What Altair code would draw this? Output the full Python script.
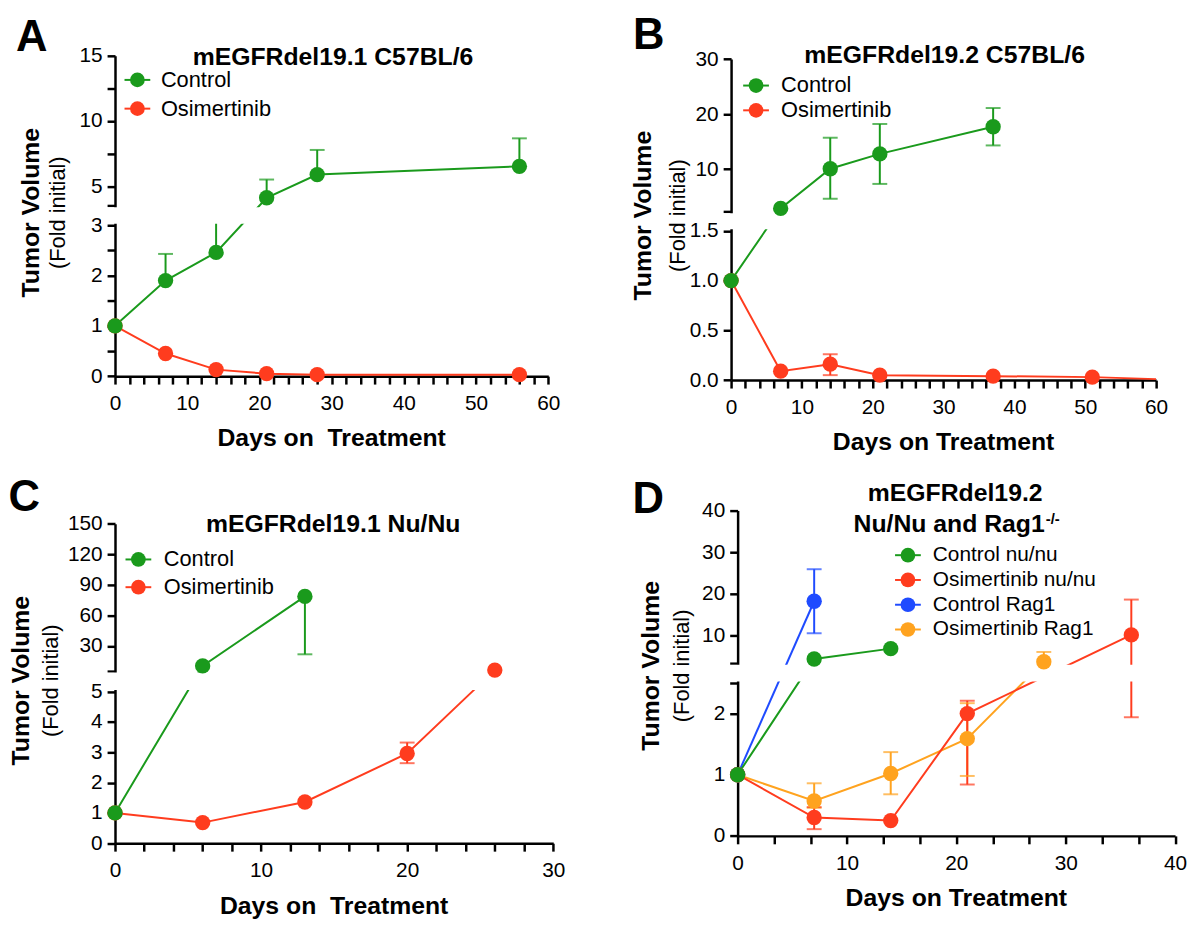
import altair as alt
import pandas as pd

FONT = "Liberation Sans"
GREEN, RED, BLUE, ORANGE = "#1a9a1c", "#ff3c1e", "#1f4bff", "#ffa31f"

# ---------------- data ----------------
# Panel A: mEGFRdel19.1 C57BL/6
A_days = [0, 7, 14, 21, 28, 56]
A_ctrl = [1.0, 1.90, 2.46, 4.11, 5.89, 6.52]
A_ctrl_hi = [None, 2.43, 3.3, 5.51, 7.78, 8.67]
A_osi = [1.0, 0.45, 0.13, 0.05, 0.03, 0.03]

# Panel B: mEGFRdel19.2 C57BL/6
B_ctrl_days = [0, 7, 14, 21, 37]
B_ctrl = [1.0, 2.85, 10.06, 12.76, 17.7]
B_ctrl_lo = [None, None, 4.6, 7.3, 14.3]
B_ctrl_hi = [None, None, 15.7, 18.2, 21.1]
B_osi_days = [0, 7, 14, 21, 37, 51]
B_osi = [1.0, 0.09, 0.16, 0.05, 0.04, 0.03]
B_osi_lo = [None, None, 0.05, None, None, None]
B_osi_hi = [None, None, 0.26, None, None, None]
B_osi_tail_days = [60]
B_osi_tail = [0.01]

# Panel C: mEGFRdel19.1 Nu/Nu
C_ctrl_days = [0, 6, 13]
C_ctrl = [1.0, 10.5, 78.7]
C_ctrl_lo = [None, None, 21.9]
C_osi_days = [0, 6, 13, 20, 26]
C_osi = [1.0, 0.68, 1.36, 2.96, 6.4]
C_osi_lo = [None, None, None, 2.64, None]
C_osi_hi = [None, None, None, 3.32, None]

# Panel D: mEGFRdel19.2 Nu/Nu and Rag1-/-
D_gn_days = [0, 7, 14]
D_gn = [1.0, 4.3, 6.8]
D_rd_days = [0, 7, 14, 21, 36]
D_rd = [1.0, 0.30, 0.25, 2.0, 10.1]
D_rd_lo = [None, 0.11, None, 0.84, 1.94]
D_rd_hi = [None, 0.47, None, 2.21, 18.6]
D_bl_days = [0, 7]
D_bl = [1.0, 18.2]
D_bl_lo = [None, 10.5]
D_bl_hi = [None, 25.9]
D_or_days = [0, 7, 14, 21, 28]
D_or = [1.0, 0.57, 1.02, 1.59, 3.65]
D_or_lo = [None, 0.46, 0.68, 0.98, None]
D_or_hi = [None, 0.86, 1.37, 2.17, 6.0]

ONE = pd.DataFrame({"k": [0]})


def ser(name, color, days, vals, lo=None, hi=None, tail_days=(), tail_vals=()):
    n = len(days)
    return dict(name=name, color=color, days=days, vals=vals,
                lo=lo or [None] * n, hi=hi or [None] * n,
                tail_days=list(tail_days), tail_vals=list(tail_vals))


def frames(series):
    pts, lines, errs, caps = [], [], [], []
    for s in series:
        for d, v, lo, hi in zip(s["days"], s["vals"], s["lo"], s["hi"]):
            pts.append(dict(day=d, val=v, color=s["color"], name=s["name"]))
            lines.append(dict(day=d, val=v, color=s["color"], name=s["name"]))
            if lo is not None or hi is not None:
                errs.append(dict(day=d, lo=lo if lo is not None else v,
                                 hi=hi if hi is not None else v, color=s["color"]))
            for c in (lo, hi):
                if c is not None:
                    caps.append(dict(day=d, cap=c, color=s["color"]))
        for d, v in zip(s["tail_days"], s["tail_vals"]):
            lines.append(dict(day=d, val=v, color=s["color"], name=s["name"]))
    return (pd.DataFrame(pts), pd.DataFrame(lines), pd.DataFrame(errs), pd.DataFrame(caps))


def txt(x, y, s, size, weight="normal", align="center", baseline="alphabetic", angle=0):
    return alt.Chart(ONE).mark_text(
        text=s, fontSize=size, fontWeight=weight, font=FONT, align=align,
        baseline=baseline, angle=angle, color="black"
    ).encode(x=alt.value(x), y=alt.value(y))


def panel(cfg):
    W, H = cfg["W"], cfg["H"]
    yscale = alt.Scale(domain=cfg["ydom"], range=cfg["yrng"], nice=False, zero=False)
    xscale = alt.Scale(domain=[0, cfg["xmax"]], nice=False, zero=False)
    common = dict(grid=False, title=None, domainColor="black", domainWidth=2.5,
                  tickColor="black", tickWidth=2.5, tickSize=8, labelFont=FONT,
                  labelFontSize=21, labelColor="black", labelOverlap=False,
                  labelFlush=False, labelBound=False)
    yaxis = alt.Axis(values=cfg["yticks"], labelExpr=cfg["ylab"], labelPadding=5, **common)
    xaxis = alt.Axis(values=cfg["xticks"],
                     labelExpr="datum.value % 10 === 0 ? format(datum.value, 'd') : ''",
                     labelPadding=9, **common)

    def X(f):
        return alt.X(f + ":Q", scale=xscale, axis=xaxis)

    def Y(f):
        return alt.Y(f + ":Q", scale=yscale, axis=yaxis)

    col = alt.Color("color:N", scale=None)
    pts, lines, errs, caps = frames(cfg["series"])

    layers = [
        alt.Chart(lines).mark_line(strokeWidth=2).encode(
            x=X("day"), y=Y("val"), color=col, detail="name:N", order="day:Q"),
        alt.Chart(errs).mark_rule(strokeWidth=2).encode(
            x=X("day"), y=Y("lo"), y2="hi:Q", color=col),
        alt.Chart(caps).mark_tick(orient="horizontal", size=15, thickness=2).encode(
            x=X("day"), y=Y("cap"), color=col),
        # white band hiding the axis break
        alt.Chart(ONE).mark_rect(color="white", yOffset=1.6, y2Offset=-1.6).encode(
            x=alt.value(-14), x2=alt.value(W + 2),
            y=alt.YDatum(cfg["ydom"][2], scale=yscale, axis=yaxis),
            y2=alt.Y2Datum(cfg["ydom"][1])),
        alt.Chart(pts).mark_circle(size=240, opacity=1).encode(
            x=X("day"), y=Y("val"), color=col),
    ]
    # legend
    sx, tx = cfg["leg_sym_x"], cfg["leg_txt_x"]
    for (name, color), ry in zip(cfg["legend"], cfg["leg_rows"]):
        layers.append(alt.Chart(ONE).mark_rule(color=color, strokeWidth=2).encode(
            x=alt.value(sx - 13), x2=alt.value(sx + 13), y=alt.value(ry)))
        layers.append(alt.Chart(ONE).mark_circle(color=color, size=220, opacity=1).encode(
            x=alt.value(sx), y=alt.value(ry)))
        layers.append(txt(tx, ry, name, cfg.get("leg_size", 22), align="left", baseline="middle"))
    # letter, titles, axis titles
    lx, ly = cfg["letter_xy"]
    layers.append(txt(lx, ly, cfg["letter"], 44, "bold", align="left"))
    for (s, x, y, align, size) in cfg["titles"]:
        layers.append(txt(x, y, s, size, "bold", align=align))
    layers.append(txt(W / 2, H + 71, cfg["xtitle"], 25, "bold"))
    tvx, tvy = cfg["tv_xy"]
    fix, fiy = cfg["fi_xy"]
    layers.append(txt(tvx, tvy, "Tumor Volume", 25, "bold", baseline="middle", angle=270))
    layers.append(txt(fix, fiy, "(Fold initial)", 22, baseline="middle", angle=270))
    return alt.layer(*layers).properties(width=W, height=H)


def ticks(step, top):
    out, k = [], 0
    while k * step <= top + 1e-9:
        v = k * step
        out.append(int(round(v)) if abs(v - round(v)) < 1e-9 else round(v, 6))
        k += 1
    return out


panel_A = panel(dict(
    W=437.3, H=323.3, ydom=[0, 3, 3.5, 15], yrng=[323.3, 171.0, 151.3, 0],
    xmax=60, xticks=ticks(2, 60),
    yticks=[0, 0.5, 1, 1.5, 2, 2.5, 3, 3.5, 5, 7.5, 10, 12.5, 15],
    ylab="indexof([0,1,2,3,5,10,15], datum.value) >= 0 ? format(datum.value, 'd') : ''",
    series=[ser("Osimertinib", RED, A_days, A_osi),
            ser("Control", GREEN, A_days, A_ctrl, hi=A_ctrl_hi)],
    legend=[("Control", GREEN), ("Osimertinib", RED)],
    leg_sym_x=22.6, leg_txt_x=46.3, leg_rows=[24.3, 53.3],
    letter="A", letter_xy=(-100, -4.7),
    titles=[("mEGFRdel19.1 C57BL/6", 220, 9, "center", 25)],
    xtitle="Days on\u00a0 Treatment", tv_xy=(-85, 158.3), fi_xy=(-57, 158.3)))

panel_B = panel(dict(
    W=428.9, H=327.3, ydom=[0, 1.5, 2.25, 30], yrng=[327.3, 176.6, 157.3, 3.3],
    xmax=60, xticks=ticks(2, 60),
    yticks=[0, 0.5, 1, 1.5, 2.25, 10, 20, 30],
    ylab="datum.value <= 1.5 ? format(datum.value, '.1f') : (datum.value >= 10 ? format(datum.value, 'd') : '')",
    series=[ser("Osimertinib", RED, B_osi_days, B_osi, B_osi_lo, B_osi_hi,
                B_osi_tail_days, B_osi_tail),
            ser("Control", GREEN, B_ctrl_days, B_ctrl, B_ctrl_lo, B_ctrl_hi)],
    legend=[("Control", GREEN), ("Osimertinib", RED)],
    leg_sym_x=25.2, leg_txt_x=50.5, leg_rows=[30, 55],
    letter="B", letter_xy=(-99, -6.7),
    titles=[("mEGFRdel19.2 C57BL/6", 215.5, 7, "center", 25)],
    xtitle="Days on Treatment", tv_xy=(-88.5, 161.3), fi_xy=(-53.5, 161.3)))

panel_C = panel(dict(
    W=442.3, H=335.7, ydom=[0, 5, 5.5, 150], yrng=[335.7, 182.7, 161.9, 13.3],
    xmax=30, xticks=ticks(2, 30),
    yticks=[0, 1, 2, 3, 4, 5, 5.5, 30, 60, 90, 120, 150],
    ylab="datum.value == 5.5 ? '' : format(datum.value, 'd')",
    series=[ser("Osimertinib", RED, C_osi_days, C_osi, C_osi_lo, C_osi_hi),
            ser("Control", GREEN, C_ctrl_days, C_ctrl, lo=C_ctrl_lo)],
    legend=[("Control", GREEN), ("Osimertinib", RED)],
    leg_sym_x=23.6, leg_txt_x=49.2, leg_rows=[49.3, 77.3],
    letter="C", letter_xy=(-107.4, 0),
    titles=[("mEGFRdel19.1 Nu/Nu", 220.2, 21.7, "center", 25)],
    xtitle="Days on\u00a0 Treatment", tv_xy=(-95, 171.7), fi_xy=(-65, 171.7)))

panel_D = panel(dict(
    W=441.5, H=328.3, ydom=[0, 2.5, 3.3, 40], yrng=[328.3, 174, 154, 0],
    xmax=40, xticks=ticks(10 / 3, 40),
    yticks=[0, 1, 2, 2.5, 3.3, 10, 20, 30, 40],
    ylab="indexof([0,1,2,10,20,30,40], datum.value) >= 0 ? format(datum.value, 'd') : ''",
    series=[ser("Osimertinib Rag1", ORANGE, D_or_days, D_or, D_or_lo, D_or_hi),
            ser("Control Rag1", BLUE, D_bl_days, D_bl, D_bl_lo, D_bl_hi),
            ser("Osimertinib nu/nu", RED, D_rd_days, D_rd, D_rd_lo, D_rd_hi),
            ser("Control nu/nu", GREEN, D_gn_days, D_gn)],
    legend=[("Control nu/nu", GREEN), ("Osimertinib nu/nu", RED),
            ("Control Rag1", BLUE), ("Osimertinib Rag1", ORANGE)],
    leg_sym_x=171.9, leg_txt_x=197, leg_rows=[45, 70, 95, 120], leg_size=21,
    letter="D", letter_xy=(-106, 2),
    titles=[("mEGFRdel19.2", 219.6, -10, "center", 25),
            ("Nu/Nu and Rag1", 309.9, 22, "right", 25),
            ("-/-", 311, 14, "left", 15)],
    xtitle="Days on Treatment", tv_xy=(-87.4, 156.7), fi_xy=(-55.6, 156.7)))

row1 = alt.hconcat(panel_A, panel_B, spacing=183.8, bounds="flush")
row2 = alt.hconcat(panel_C, panel_D, spacing=185.4, bounds="flush")
chart = alt.vconcat(row1, row2, spacing=20, bounds="full").configure(
    padding={"left": 0, "top": 2, "right": 5, "bottom": 5}, background="white"
).configure_view(stroke=None)

chart.save("out.html", embed_options={"renderer": "svg", "actions": False})
